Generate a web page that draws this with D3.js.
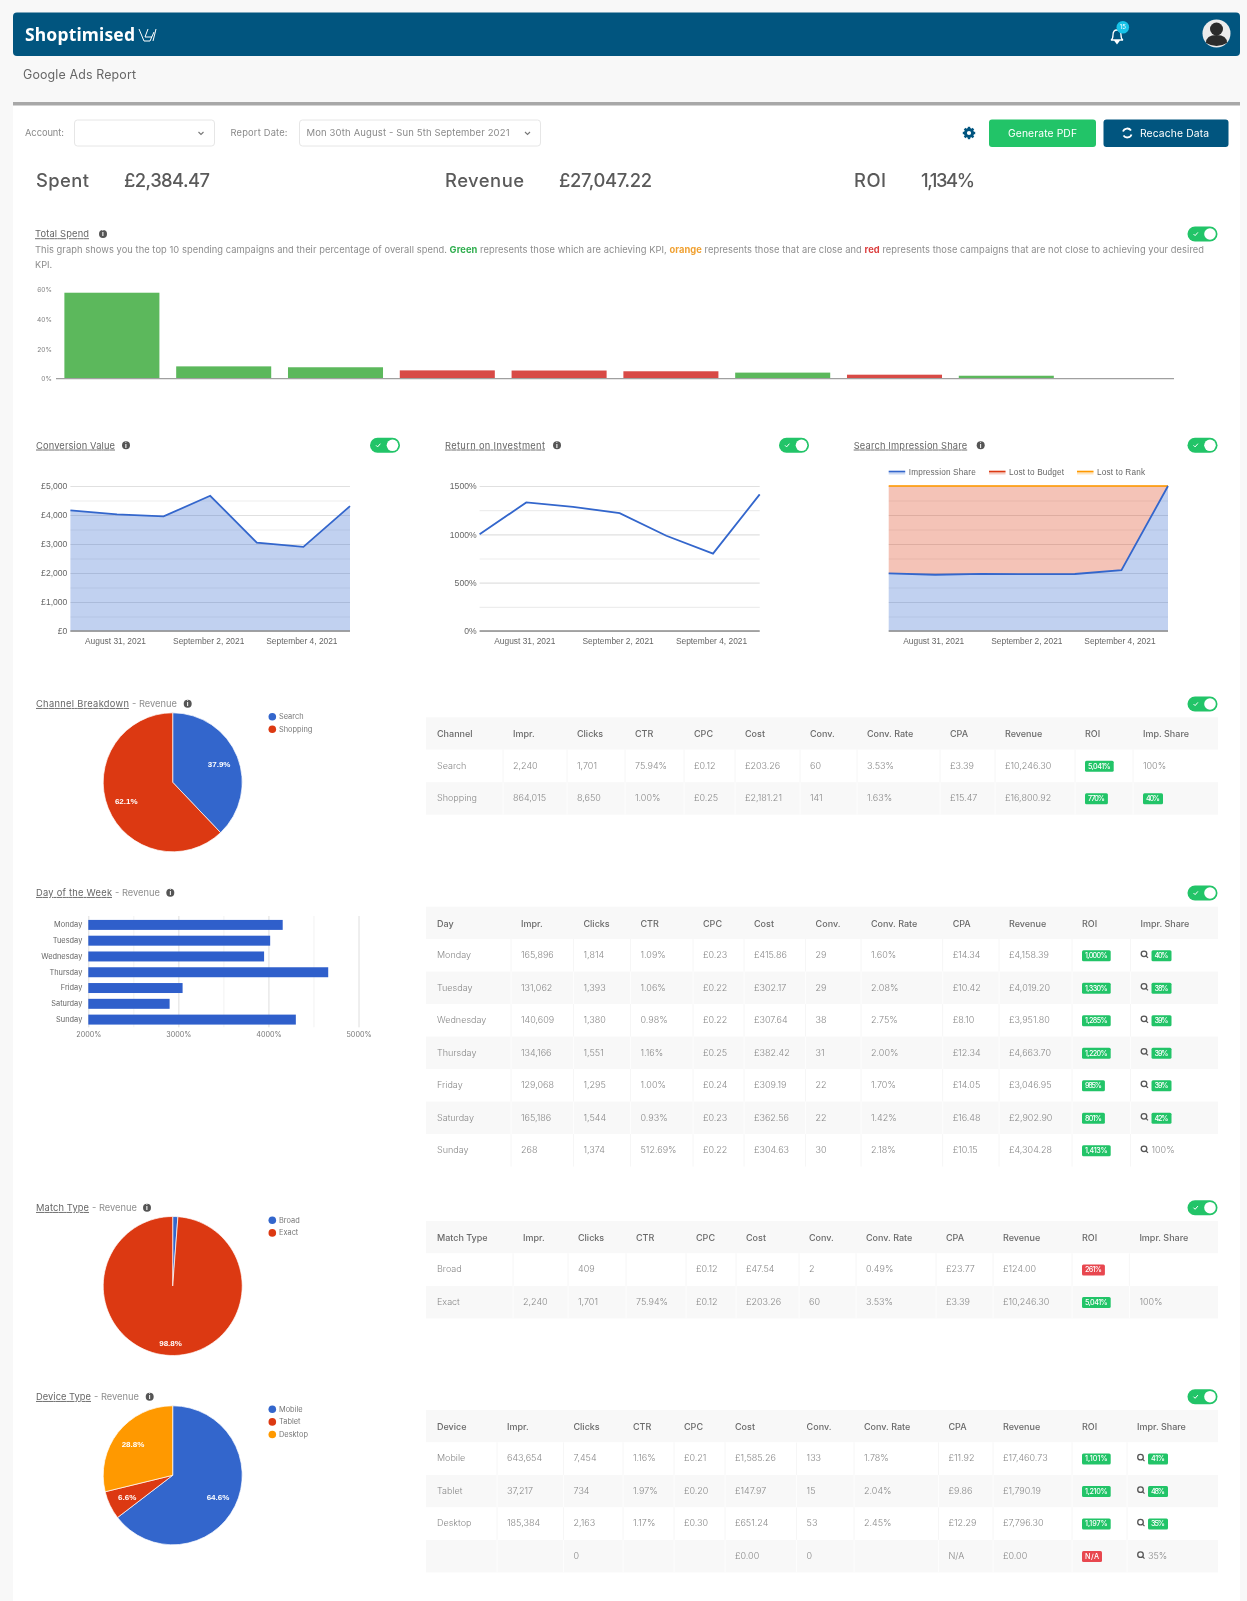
<!DOCTYPE html>
<html>
<head>
<meta charset="utf-8">
<title>Google Ads Report</title>
<script src="https://cdn.jsdelivr.net/npm/d3@7"></script>
<style>
body { margin:0; background:#f8f8f8; }
svg { display:block; filter:blur(0.55px); }
text { font-family:Inter,"Open Sans",sans-serif; }
</style>
</head>
<body>
<div class="chart"></div>
<script>
// total spend bars
const spendValues = [57.9, 8.3, 7.7, 5.6, 5.5, 5.0, 4.1, 2.7, 2.0, 0.2];
const spendStatus = ["g","g","g","r","r","r","g","r","g","g"];
const spendTicks = [0, 20, 40, 60];

// daily series
const dateLabels = ["August 31, 2021", "September 2, 2021", "September 4, 2021"];
const dateTickIdx = [1, 3, 5];
const revenueDaily = [4158.39, 4019.20, 3951.80, 4663.70, 3046.95, 2902.90, 4304.28];
const roiDaily = [1000, 1330, 1285, 1220, 985, 801, 1413];
const impShare = [39.8, 38.8, 39.4, 39.2, 39.3, 41.9, 100];
const lostBudget = [59.8, 60.8, 60.2, 60.4, 60.3, 57.7, 0];
const lostRank = [0.4, 0.4, 0.4, 0.4, 0.4, 0.4, 0];

// pies
const channelNames = ["Search", "Shopping"];
const channelShare = [37.9, 62.1];
const matchNames = ["Broad", "Exact"];
const matchShare = [1.2, 98.8];
const deviceNames = ["Mobile", "Tablet", "Desktop"];
const deviceShare = [64.6, 6.6, 28.8];

// day of week bars
const dayNames = ["Monday","Tuesday","Wednesday","Thursday","Friday","Saturday","Sunday"];
const dayTicks = [2000, 3000, 4000, 5000];

// tables. prefix g: / r: is a green / red badge, q: is the magnifier icon
const channelHead = ["Channel","Impr.","Clicks","CTR","CPC","Cost","Conv.","Conv. Rate","CPA","Revenue","ROI","Imp. Share"];
const channelRows = [
  ["Search","2,240","1,701","75.94%","£0.12","£203.26","60","3.53%","£3.39","£10,246.30","g:5,041%","100%"],
  ["Shopping","864,015","8,650","1.00%","£0.25","£2,181.21","141","1.63%","£15.47","£16,800.92","g:770%","g:40%"]
];
const dayHead = ["Day","Impr.","Clicks","CTR","CPC","Cost","Conv.","Conv. Rate","CPA","Revenue","ROI","Impr. Share"];
const dayRows = [
  ["Monday","165,896","1,814","1.09%","£0.23","£415.86","29","1.60%","£14.34","£4,158.39","g:1,000%","q:g:40%"],
  ["Tuesday","131,062","1,393","1.06%","£0.22","£302.17","29","2.08%","£10.42","£4,019.20","g:1,330%","q:g:38%"],
  ["Wednesday","140,609","1,380","0.98%","£0.22","£307.64","38","2.75%","£8.10","£3,951.80","g:1,285%","q:g:39%"],
  ["Thursday","134,166","1,551","1.16%","£0.25","£382.42","31","2.00%","£12.34","£4,663.70","g:1,220%","q:g:39%"],
  ["Friday","129,068","1,295","1.00%","£0.24","£309.19","22","1.70%","£14.05","£3,046.95","g:985%","q:g:39%"],
  ["Saturday","165,186","1,544","0.93%","£0.23","£362.56","22","1.42%","£16.48","£2,902.90","g:801%","q:g:42%"],
  ["Sunday","268","1,374","512.69%","£0.22","£304.63","30","2.18%","£10.15","£4,304.28","g:1,413%","q:100%"]
];
const matchHead = ["Match Type","Impr.","Clicks","CTR","CPC","Cost","Conv.","Conv. Rate","CPA","Revenue","ROI","Impr. Share"];
const matchRows = [
  ["Broad","","409","","£0.12","£47.54","2","0.49%","£23.77","£124.00","r:261%",""],
  ["Exact","2,240","1,701","75.94%","£0.12","£203.26","60","3.53%","£3.39","£10,246.30","g:5,041%","100%"]
];
const deviceHead = ["Device","Impr.","Clicks","CTR","CPC","Cost","Conv.","Conv. Rate","CPA","Revenue","ROI","Impr. Share"];
const deviceRows = [
  ["Mobile","643,654","7,454","1.16%","£0.21","£1,585.26","133","1.78%","£11.92","£17,460.73","g:1,101%","q:g:41%"],
  ["Tablet","37,217","734","1.97%","£0.20","£147.97","15","2.04%","£9.86","£1,790.19","g:1,210%","q:g:48%"],
  ["Desktop","185,384","2,163","1.17%","£0.30","£651.24","53","2.45%","£12.29","£7,796.30","g:1,197%","q:g:35%"],
  ["","","0","","","£0.00","0","","N/A","£0.00","r:N/A","q:35%"]
];

const BLUE = "#3366cc", RED = "#dc3912", ORANGE = "#ff9900";
const GREEN = "#22c468", NAVY = "#01557f";
const TXT = "#6f6f6f";

const svg = d3.select(".chart").append("svg")
  .attr("width", 1247).attr("height", 1601);

function label(x, y, str, o) {
  o = o || {};
  return svg.append("text")
    .attr("x", x).attr("y", y)
    .attr("dy", "0.35em")
    .attr("text-anchor", o.anchor || "start")
    .attr("fill", o.fill || TXT)
    .style("font-size", (o.size || 9.5) + "px")
    .style("font-weight", o.weight || 400)
    .style("font-family", o.family || null)
    .style("text-decoration", o.underline ? "underline" : null)
    .text(str);
}

function toggle(x, y) {
  svg.append("rect").attr("x", x).attr("y", y - 7.5).attr("width", 30).attr("height", 15).attr("rx", 7.5).attr("fill", GREEN);
  svg.append("circle").attr("cx", x + 22.5).attr("cy", y).attr("r", 5.8).attr("fill", "#fff");
  svg.append("path").attr("d", `M${x+6},${y} l1.6,1.6 l2.8,-3.2`).attr("fill", "none").attr("stroke", "#fff").attr("stroke-width", 1);
}

function info(x, y) {
  svg.append("circle").attr("cx", x).attr("cy", y).attr("r", 4).attr("fill", "#555");
  label(x, y, "i", {anchor:"middle", fill:"#fff", size:6.5, weight:700});
}

function title(x, y, str, width, sub, infoX) {
  label(x, y, str, {underline:true, size:9.3, fill:"#666"}).attr("textLength", width);
  if (sub) label(x + width + 3, y, "- " + sub, {size:9.3, fill:"#8f8f8f"});
  info(infoX, y);
}

// page furniture
svg.append("rect").attr("x", 13).attr("y", 102).attr("width", 1227).attr("height", 1499).attr("fill", "#fff");
svg.append("rect").attr("x", 13).attr("y", 102).attr("width", 1227).attr("height", 3.5).attr("fill", "#a8a8a8");
svg.append("rect").attr("x", 13).attr("y", 12.5).attr("width", 1227).attr("height", 43.5).attr("rx", 4).attr("fill", NAVY);

label(25, 35, "Shoptimised", {fill:"#fff", size:17.5, weight:700, family:"'Noto Sans'"}).attr("textLength", 110);
svg.append("path")
  .attr("d", "M139,29 l5,12 h6 l4,-9 M148,29 l-3,8 h7 M156,29 l-3,12")
  .attr("fill", "none").attr("stroke", "#fff").attr("stroke-width", 1);

// bell and avatar
svg.append("path")
  .attr("d", "M1111,40 q2,-1 2,-5 q0,-5 4,-5 q4,0 4,5 q0,4 2,5 z M1115.5,41.5 h3 l-1.5,2 z")
  .attr("fill", "none").attr("stroke", "#fff").attr("stroke-width", 1.3);
svg.append("circle").attr("cx", 1122.8).attr("cy", 27.3).attr("r", 6.3).attr("fill", "#18c3e8");
label(1122.8, 27.3, "15", {anchor:"middle", fill:"#fff", size:6});
svg.append("circle").attr("cx", 1216.5).attr("cy", 33.5).attr("r", 14).attr("fill", "#ececec");
svg.append("circle").attr("cx", 1216.5).attr("cy", 29).attr("r", 6.5).attr("fill", "#2b2b2b");
svg.append("path").attr("d", "M1206,43 q0,-8 10.5,-8 q10.5,0 10.5,8 q-10.5,6 -21,0 z").attr("fill", "#2b2b2b");

label(23, 75, "Google Ads Report", {size:12.4, fill:"#666"}).attr("textLength", 113);

// filters
label(25, 133, "Account:", {size:9.3, fill:"#8a8a8a"}).attr("textLength", 39);
svg.append("rect").attr("x", 74.5).attr("y", 120).attr("width", 140).attr("height", 26).attr("rx", 3).attr("fill", "#fff").attr("stroke", "#e6e6e6");
label(230.5, 133, "Report Date:", {size:9.3, fill:"#8a8a8a"}).attr("textLength", 57);
svg.append("rect").attr("x", 299.5).attr("y", 120).attr("width", 241).attr("height", 26).attr("rx", 3).attr("fill", "#fff").attr("stroke", "#e6e6e6");
label(306.5, 133, "Mon 30th August - Sun 5th September 2021", {size:9.5, fill:"#8a8a8a"}).attr("textLength", 203);
[201, 527.5].forEach(x => {
  svg.append("path").attr("d", `M${x-2.5},132 l2.5,2.5 l2.5,-2.5`).attr("fill", "none").attr("stroke", "#777").attr("stroke-width", 1.1);
});

// gear
svg.append("circle").attr("cx", 969).attr("cy", 133).attr("r", 3.6).attr("fill", "none").attr("stroke", NAVY).attr("stroke-width", 3);
d3.range(8).forEach(i => {
  svg.append("rect").attr("x", 967.8).attr("y", 126.8).attr("width", 2.4).attr("height", 2)
    .attr("fill", NAVY).attr("transform", `rotate(${i * 45} 969 133)`);
});

svg.append("rect").attr("x", 989).attr("y", 119.5).attr("width", 107).attr("height", 27.5).attr("rx", 3).attr("fill", GREEN);
label(1042.5, 133, "Generate PDF", {anchor:"middle", fill:"#fff", size:10.3}).attr("textLength", 69);
svg.append("rect").attr("x", 1103.5).attr("y", 119.5).attr("width", 125).attr("height", 27.5).attr("rx", 3).attr("fill", NAVY);
label(1140, 133, "Recache Data", {fill:"#fff", size:10.3}).attr("textLength", 69);
svg.append("path").attr("d", "M1123,131.5 a4.5,4.5 0 0 1 8,-1 M1131.5,134.5 a4.5,4.5 0 0 1 -8,1")
  .attr("fill", "none").attr("stroke", "#fff").attr("stroke-width", 1.8);

// headline figures
[[36,"Spent",53],[124,"£2,384.47",86],[445,"Revenue",79],[559,"£27,047.22",93],[854,"ROI",32],[921,"1,134%",54]].forEach(d => {
  label(d[0], 181, d[1], {size:18.4, fill:"#5a5a5a", weight:500}).attr("textLength", d[2]);
});

// total spend
title(35, 234, "Total Spend", 54, null, 103);
toggle(1187.5, 234);
const desc = svg.append("text").attr("x", 35).attr("y", 250).attr("dy", "0.35em")
  .attr("textLength", 1169).style("font-size", "9.3px").attr("fill", "#8c8c8c");
desc.append("tspan").text("This graph shows you the top 10 spending campaigns and their percentage of overall spend. ");
desc.append("tspan").attr("fill", "#2fae4e").style("font-weight", 700).text("Green");
desc.append("tspan").text(" represents those which are achieving KPI, ");
desc.append("tspan").attr("fill", "#f0a030").style("font-weight", 700).text("orange");
desc.append("tspan").text(" represents those that are close and ");
desc.append("tspan").attr("fill", "#dc3f3f").style("font-weight", 700).text("red");
desc.append("tspan").text(" represents those campaigns that are not close to achieving your desired");
label(35, 265, "KPI.", {size:9.2, fill:"#8c8c8c"});

const spendX = d3.scaleBand().domain(d3.range(10)).range([56, 1174]).paddingInner(0.15).paddingOuter(0.075);
const spendY = d3.scaleLinear().domain([0, 60]).range([378.7, 289.6]);
svg.append("g").selectAll("rect").data(spendValues).enter().append("rect")
  .attr("x", (d,i) => spendX(i))
  .attr("y", d => spendY(d))
  .attr("width", spendX.bandwidth())
  .attr("height", d => spendY(0) - spendY(d))
  .attr("fill", (d,i) => spendStatus[i] == "g" ? "#5cb85c" : "#d84a46");
svg.append("line").attr("x1", 56).attr("x2", 1174).attr("y1", 378.7).attr("y2", 378.7).attr("stroke", "#a0a0a0").attr("stroke-width", 1.3);
const spendAxis = svg.append("g").attr("transform", "translate(55,0)")
  .call(d3.axisLeft(spendY).tickValues(spendTicks).tickSize(0).tickFormat(d => d + "%"));
spendAxis.select(".domain").remove();
spendAxis.selectAll("text").attr("fill", "#808080").style("font-size", "6.6px");

// line and area charts
function gridAndAxes(x0, x1, yScale, majors, minors, fmt) {
  const xScale = d3.scalePoint().domain(d3.range(7)).range([x0, x1]);
  const minor = svg.append("g").attr("transform", `translate(${x0},0)`)
    .call(d3.axisLeft(yScale).tickValues(minors).tickSize(-(x1 - x0)).tickFormat(""));
  minor.select(".domain").remove();
  minor.selectAll("line").attr("stroke", "#ededed").attr("stroke-width", 1.2);
  const major = svg.append("g").attr("transform", `translate(${x0},0)`)
    .call(d3.axisLeft(yScale).tickValues(majors).tickSize(-(x1 - x0)).tickPadding(3).tickFormat(fmt || ""));
  major.select(".domain").remove();
  major.selectAll("line").attr("stroke", "#e0e0e0").attr("stroke-width", 1.2);
  major.selectAll("text").attr("fill", "#666").style("font-family", "'Liberation Sans'").style("font-size", "8.6px");
  const xAxis = svg.append("g").attr("transform", "translate(0,631)")
    .call(d3.axisBottom(xScale).tickValues(dateTickIdx).tickSize(0).tickPadding(7).tickFormat((d,i) => dateLabels[i]));
  xAxis.select(".domain").remove();
  xAxis.selectAll("text").attr("fill", "#666").attr("dx", -2).style("font-family", "'Liberation Sans'").style("font-size", "8.4px");
  return xScale;
}

function baseline(x0, x1) {
  svg.append("line").attr("x1", x0).attr("x2", x1).attr("y1", 631).attr("y2", 631).attr("stroke", "#8c8c8c").attr("stroke-width", 1.6);
}

// conversion value
title(36, 445.3, "Conversion Value", 79, null, 126);
toggle(370, 445.3);
const cvY = d3.scaleLinear().domain([0, 5000]).range([631, 486]);
const cvX = gridAndAxes(70.4, 350, cvY, [0,1000,2000,3000,4000,5000], [500,1500,2500,3500,4500], d => "£" + d3.format(",")(d));
svg.append("path").datum(revenueDaily)
  .attr("d", d3.area().x((d,i) => cvX(i)).y0(631).y1(d => cvY(d)))
  .attr("fill", BLUE).attr("fill-opacity", 0.3);
svg.append("path").datum(revenueDaily)
  .attr("d", d3.line().x((d,i) => cvX(i)).y(d => cvY(d)))
  .attr("fill", "none").attr("stroke", BLUE).attr("stroke-width", 1.8);
baseline(70.4, 350);

// return on investment
title(445, 445.3, "Return on Investment", 100, null, 557);
toggle(779, 445.3);
const roiY = d3.scaleLinear().domain([0, 1500]).range([631, 486]);
const roiX = gridAndAxes(479.6, 759.7, roiY, [0,500,1000,1500], [250,750,1250], d => d + "%");
svg.append("path").datum(roiDaily)
  .attr("d", d3.line().x((d,i) => roiX(i)).y(d => roiY(d)))
  .attr("fill", "none").attr("stroke", BLUE).attr("stroke-width", 1.8);
baseline(479.6, 759.7);

// search impression share
title(853.7, 445.3, "Search Impression Share", 113.5, null, 980.7);
toggle(1187.5, 445.3);
const shareY = d3.scaleLinear().domain([0, 100]).range([631, 486]);
const shareX = gridAndAxes(888.7, 1168, shareY, [0,20,40,60,80,100], [10,30,50,70,90]);
const shareTop = impShare.map((d,i) => d + lostBudget[i]);
const shareFull = shareTop.map((d,i) => d + lostRank[i]);
svg.append("path").datum(impShare)
  .attr("d", d3.area().x((d,i) => shareX(i)).y0(631).y1(d => shareY(d)))
  .attr("fill", BLUE).attr("fill-opacity", 0.3);
svg.append("path").datum(d3.range(7))
  .attr("d", d3.area().x(i => shareX(i)).y0(i => shareY(impShare[i])).y1(i => shareY(shareTop[i])))
  .attr("fill", RED).attr("fill-opacity", 0.3);
svg.append("path").datum(shareFull)
  .attr("d", d3.line().x((d,i) => shareX(i)).y(() => shareY(100)))
  .attr("fill", "none").attr("stroke", ORANGE).attr("stroke-opacity", 0.8).attr("stroke-width", 1.8);
svg.append("path").datum(impShare)
  .attr("d", d3.line().x((d,i) => shareX(i)).y(d => shareY(d)))
  .attr("fill", "none").attr("stroke", BLUE).attr("stroke-width", 1.8);
baseline(888.7, 1168);
[[888.7,908.7,"Impression Share",BLUE,67],[989,1009,"Lost to Budget",RED,55],[1077,1097,"Lost to Rank",ORANGE,48]].forEach(d => {
  svg.append("rect").attr("x", d[0]).attr("y", 471.5).attr("width", 16.5).attr("height", 3).attr("fill", d[3]).attr("fill-opacity", 0.25);
  svg.append("line").attr("x1", d[0]).attr("x2", d[0] + 16.5).attr("y1", 471.5).attr("y2", 471.5).attr("stroke", d[3]).attr("stroke-width", 1.6);
  label(d[1], 471.7, d[2], {family:"'Liberation Sans'", size:8.2, fill:"#666"}).attr("textLength", d[4]);
});

// pies
const pieColors = [BLUE, RED, ORANGE];
function drawPie(cy, names, values, labelR, legendY) {
  const arcs = d3.pie().sort(null)(values);
  const arc = d3.arc().innerRadius(0).outerRadius(69.5);
  const g = svg.append("g").attr("transform", `translate(172.7,${cy})`);
  g.selectAll("path").data(arcs).enter().append("path")
    .attr("d", arc)
    .attr("fill", (d,i) => pieColors[i])
    .attr("stroke", "#fff").attr("stroke-width", 0.7);
  const labelArc = d3.arc().innerRadius(labelR).outerRadius(labelR);
  g.selectAll("text").data(arcs.filter(d => d.value > 5)).enter().append("text")
    .attr("transform", d => `translate(${labelArc.centroid(d)})`)
    .attr("text-anchor", "middle").attr("dy", "0.35em")
    .attr("fill", "#fff")
    .style("font-family", "'Liberation Sans'").style("font-size", "8px").style("font-weight", 700)
    .text(d => d.value.toFixed(1) + "%");
  names.forEach((n,i) => {
    svg.append("circle").attr("cx", 272.3).attr("cy", legendY + i * 12.6).attr("r", 3.8).attr("fill", pieColors[i]);
    label(279, legendY + i * 12.6, n, {size:7.4, fill:"#777"});
  });
}

title(36, 703.7, "Channel Breakdown", 93, "Revenue", 187.7);
toggle(1187.5, 704);
drawPie(782.3, channelNames, channelShare, 50, 716.7);

title(36, 1207.7, "Match Type", 53, "Revenue", 147);
toggle(1187.5, 1207.7);
drawPie(1286, matchNames, matchShare, 57, 1220.3);

title(36, 1396.7, "Device Type", 55, "Revenue", 149.7);
toggle(1187.5, 1396.7);
drawPie(1475.3, deviceNames, deviceShare, 50.5, 1409.3);

// day of the week bars
title(36, 892.7, "Day of the Week", 76, "Revenue", 170.3);
toggle(1187.5, 893);
const dayX = d3.scaleLinear().domain([2000, 5000]).range([88.3, 358.5]);
const dayY = d3.scaleBand().domain(dayNames).range([916.6, 1027.9]).paddingInner(0.368).paddingOuter(0.21);
const dayMinor = svg.append("g").attr("transform", "translate(0,1027.3)")
  .call(d3.axisBottom(dayX).tickValues([2500,3500,4500]).tickSize(-111.3).tickFormat(""));
dayMinor.select(".domain").remove();
dayMinor.selectAll("line").attr("stroke", "#f2f2f2");
const dayMajor = svg.append("g").attr("transform", "translate(0,1027.3)")
  .call(d3.axisBottom(dayX).tickValues(dayTicks).tickSize(-111.3).tickPadding(5).tickFormat(d => d + "%"));
dayMajor.select(".domain").remove();
dayMajor.selectAll("line").attr("stroke", "#dedede");
dayMajor.selectAll("text").attr("fill", "#777").style("font-size", "7.2px");
svg.append("g").selectAll("rect").data(revenueDaily).enter().append("rect")
  .attr("x", dayX(2000))
  .attr("y", (d,i) => dayY(dayNames[i]))
  .attr("width", d => dayX(d) - dayX(2000))
  .attr("height", dayY.bandwidth())
  .attr("fill", "#2f5fcb");
const dayAxis = svg.append("g").attr("transform", "translate(88.3,0)")
  .call(d3.axisLeft(dayY).tickSize(0).tickPadding(6));
dayAxis.select(".domain").remove();
dayAxis.selectAll("text").attr("fill", "#666").style("font-size", "7.4px");

// tables
function drawTable(top, head, rows, colX) {
  const left = 426, right = 1218, headH = 32.4, rowH = 32.5;
  svg.append("rect").attr("x", left).attr("y", top).attr("width", right - left).attr("height", headH).attr("fill", "#f8f8f8");
  head.forEach((h,i) => label(colX[i], top + headH / 2 + 0.7, h, {size:9, fill:"#6a6a6a", weight:500}));
  rows.forEach((row,r) => {
    const y = top + headH + r * rowH;
    const cy = y + rowH / 2 - 0.5;
    svg.append("rect").attr("x", left).attr("y", y).attr("width", right - left).attr("height", rowH)
      .attr("fill", r % 2 ? "#f8f8f8" : "#fff");
    colX.slice(1).forEach(x => {
      svg.append("line").attr("x1", x - 10).attr("x2", x - 10).attr("y1", y).attr("y2", y + rowH)
        .attr("stroke", r % 2 ? "#fdfdfd" : "#f6f6f6");
    });
    row.forEach((c,i) => cell(colX[i], cy, c));
  });
}

function cell(x, cy, str) {
  if (str.startsWith("q:")) {
    svg.append("circle").attr("cx", x + 3.5).attr("cy", cy - 1).attr("r", 2.8).attr("fill", "none").attr("stroke", "#555").attr("stroke-width", 1.3);
    svg.append("line").attr("x1", x + 5.5).attr("y1", cy + 1).attr("x2", x + 7.5).attr("y2", cy + 3).attr("stroke", "#555").attr("stroke-width", 1.3);
    x += 11;
    str = str.slice(2);
  }
  if (str.startsWith("g:") || str.startsWith("r:")) {
    const col = str[0] == "g" ? GREEN : "#e8474f";
    const t = str.slice(2);
    const w = t.length * 2.9 + 11.3;
    svg.append("rect").attr("x", x).attr("y", cy - 4.7).attr("width", w).attr("height", 11).attr("rx", 1.5).attr("fill", col);
    label(x + w / 2, cy + 0.8, t, {anchor:"middle", fill:"#fff", size:7.2, weight:500}).attr("textLength", w - 6);
  } else {
    label(x, cy, str, {size:9, fill:"#888", weight:300});
  }
}

drawTable(717.3, channelHead, channelRows, [437,513,577,635,694,745,810,867,950,1005,1085,1143]);
drawTable(906.7, dayHead, dayRows, [437,521,583.5,640.5,703,754,815.6,871,952.7,1009,1082,1140.5]);
drawTable(1221, matchHead, matchRows, [437,523,578,636,696,746,809,866,946,1003,1082,1139.4]);
drawTable(1410, deviceHead, deviceRows, [437,507,573.5,633,684,735,806.6,864,948.5,1003,1082,1137]);
</script>
</body>
</html>
